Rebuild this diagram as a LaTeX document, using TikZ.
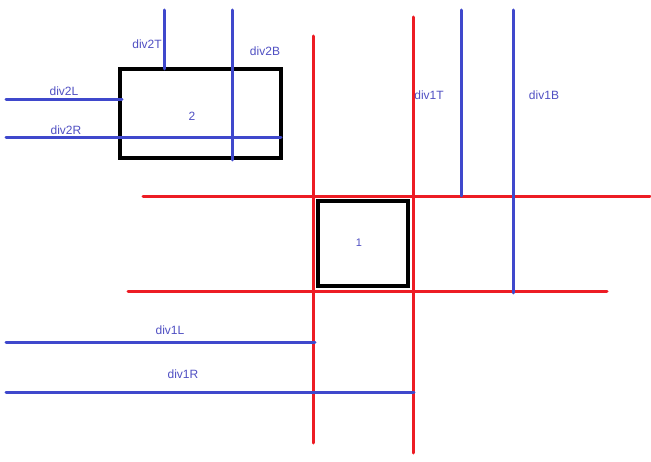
\documentclass[tikz,border=0pt]{standalone}
\usepackage{fontspec}
\setmainfont{Liberation Sans}
\begin{document}
\begin{tikzpicture}[x=1pt,y=-1pt,
  redline/.style={draw={rgb,255:red,237;green,28;blue,36},line width=3pt,line cap=round},
  blueline/.style={draw={rgb,255:red,63;green,72;blue,204},line width=3pt,line cap=round},
  boxstyle/.style={draw=black,line width=4pt,inner sep=0pt,outer sep=0pt,anchor=north west},
  lbl/.style={font=\fontsize{12}{14}\selectfont,text={rgb,255:red,80;green,80;blue,195},inner sep=0pt}]
\useasboundingbox (0,0) rectangle (651,462);
\fill[white] (0,0) rectangle (651,462);
% red lines
\coordinate (rv1t) at (313,36); \coordinate (rv1b) at (313,443);
\coordinate (rv2t) at (413,17); \coordinate (rv2b) at (413,453);
\coordinate (rh1l) at (143,197); \coordinate (rh1r) at (650,197);
\coordinate (rh2l) at (128,292); \coordinate (rh2r) at (607,292);
\draw[redline] (rv1t) -- (rv1b);
\draw[redline] (rv2t) -- (rv2b);
\draw[redline] (rh1l) -- (rh1r);
\draw[redline] (rh2l) -- (rh2r);
% box 1
\node[boxstyle,minimum width=90.5pt,minimum height=85pt] (b1) at (317.5,201.5) {};
\node[lbl,font=\fontsize{11}{13}\selectfont] (t1) at (359,243) {1};
% box 2
\node[boxstyle,minimum width=161pt,minimum height=89pt] (b2) at (119.5,69) {};
\node[lbl] (t2) at (192,116) {2};
% blue lines
\coordinate (d2Tt) at (164,10); \coordinate (d2Tb) at (164,69);
\coordinate (d2Bt) at (232,10); \coordinate (d2Bb) at (232,160);
\coordinate (d2Ll) at (6,100); \coordinate (d2Lr) at (122,100);
\coordinate (d2Rl) at (6,138); \coordinate (d2Rr) at (281,138);
\coordinate (d1Tt) at (461,10); \coordinate (d1Tb) at (461,196);
\coordinate (d1Bt) at (513,10); \coordinate (d1Bb) at (513,293);
\coordinate (d1Ll) at (6,343); \coordinate (d1Lr) at (315,343);
\coordinate (d1Rl) at (6,393); \coordinate (d1Rr) at (414,393);
\draw[blueline] (d2Tt) -- (d2Tb);
\draw[blueline] (d2Bt) -- (d2Bb);
\draw[blueline] (d2Ll) -- (d2Lr);
\draw[blueline] (d2Rl) -- (d2Rr);
\draw[blueline] (d1Tt) -- (d1Tb);
\draw[blueline] (d1Bt) -- (d1Bb);
\draw[blueline] (d1Ll) -- (d1Lr);
\draw[blueline] (d1Rl) -- (d1Rr);
% labels
\node[lbl] (l2T) at (147,44) {div2T};
\node[lbl] (l2B) at (265,51) {div2B};
\node[lbl] (l2L) at (64,91) {div2L};
\node[lbl] (l2R) at (66,130) {div2R};
\node[lbl] (l1T) at (429,95) {div1T};
\node[lbl] (l1B) at (544,95) {div1B};
\node[lbl] (l1L) at (170,330) {div1L};
\node[lbl] (l1R) at (183,374) {div1R};
\end{tikzpicture}
\end{document}
